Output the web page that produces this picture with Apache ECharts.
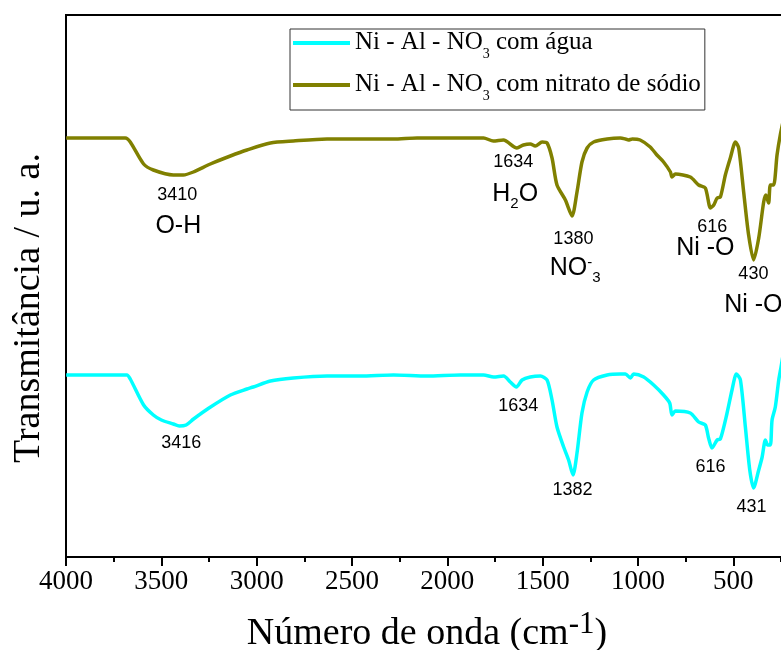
<!DOCTYPE html>
<html>
<head>
<meta charset="utf-8">
<script src="https://cdn.jsdelivr.net/npm/echarts@6/dist/echarts.min.js"></script>
<style>html,body{margin:0;padding:0;background:#fff;overflow:hidden}#c{width:832px;height:650px}</style>
</head>
<body>
<div id="c"></div>
<script>
// ---- data (arbitrary transmittance units) ----
const seriesNames = ['Ni - Al - NO3 com água', 'Ni - Al - NO3 com nitrato de sódio'];
const xTicks = [4000, 3500, 3000, 2500, 2000, 1500, 1000, 500];

const aguaWn = [3999,3850,3681,3663,3593,3542,3500,3437,3406,3370,3331,3250,3138,3051,3018,2928,2808,2631,2457,2282,2107,1932,1810,1757,1705,1670,1638,1608,1565,1512,1477,1451,1425,1390,1364,1341,1320,1294,1267,1233,1162,1093,1066,1040,1023,970,918,866,834,822,804,726,682,647,630,612,585,568,533,507,484,463,437,414,394,367,349,332,320,306,297,280,262,250,235];
const aguaT  = [182,182,182,178,152,142,137,133,131,132,138,149,162,168,170,176,179,181,181,182,181,182,182,180,181,175,170,177,180,181,177,157,130,110,97,82,104,144,165,177,182,183,183,179,183,180,172,162,154,142,146,144,135,132,119,109,117,118,144,167,183,177,130,87,69,87,100,117,112,112,137,150,177,190,207];

const nitratoWn = [3999,3850,3689,3663,3593,3542,3437,3385,3332,3243,3138,3051,2928,2808,2631,2457,2282,2159,1932,1810,1759,1706,1635,1601,1565,1539,1503,1477,1451,1425,1381,1346,1320,1294,1267,1233,1162,1093,1066,1050,1030,989,936,901,866,830,822,804,726,682,647,620,603,585,568,542,516,489,472,446,420,394,367,341,329,315,306,289,271,254,235];
const nitratoT  = [419,419,419,415,393,387,382,382,385,393,401,407,414,416,418,418,418,419,419,419,416,417,409,412,413,411,415,414,399,372,357,341,365,395,409,415,418,419,418,417,418,417,410,402,395,385,380,383,380,372,369,349,352,359,360,382,399,415,409,365,322,297,319,355,362,354,372,372,402,422,439];

// annotations: [wavenumber, value, text]
const aguaNotes = [[3395,114,'3416'],[1628,151,'1634'],[1344,67,'1382'],[620,90,'616'],[405,50,'431']];
const nitratoNotes = [[3416,362,'3410'],[1654,395,'1634'],[1339,318,'1380'],[611,330,'616'],[395,283,'430']];
const groupNotes = [[3411,331,'{b|O-H}'],[1644,363,'{b|H}{sb|2}{b|O}'],[1330,289,'{b|NO}{sp|-}{sb|3}'],[647,309,'{b|Ni -O}'],[395,252,'{b|Ni -O}']];

const pair = (xs, ys) => xs.map((x, i) => [x, ys[i]]);
const richGroup = {
  b:  {fontSize: 25, fontFamily: 'Liberation Sans', color: '#000', lineHeight: 25, verticalAlign: 'top'},
  sb: {fontSize: 15, fontFamily: 'Liberation Sans', color: '#000', lineHeight: 15, padding: [15,0,0,0], verticalAlign: 'top'},
  sp: {fontSize: 15, fontFamily: 'Liberation Sans', color: '#000', lineHeight: 15, padding: [0,0,0,0], verticalAlign: 'top'}
};
const numNote = n => ({coord: [n[0], n[1]], value: n[2], label: {formatter: n[2]}});
const groupNote = n => ({coord: [n[0], n[1]], value: 0, label: {formatter: n[2], rich: richGroup}});
const mpBase = {symbol: 'circle', symbolSize: 0, silent: true, animation: false,
  label: {show: true, position: 'inside', color: '#000', fontSize: 18, fontFamily: 'Liberation Sans'}};

const chart = echarts.init(document.getElementById('c'), null, {renderer: 'canvas'});
chart.setOption({
  animation: false,
  backgroundColor: '#fff',
  grid: {left: 66, top: 15, width: 762.7, height: 542, show: true, borderColor: '#000', borderWidth: 2, backgroundColor: 'transparent'},
  legend: {
    left: 290, top: 29, orient: 'vertical', itemGap: 11,
    padding: [1, 4, 7, 3],
    borderColor: '#333', borderWidth: 1, backgroundColor: '#fff',
    icon: 'rect', itemWidth: 57, itemHeight: 4,
    data: [seriesNames[0], seriesNames[1]],
    formatter: name => name === seriesNames[0]
      ? '{a|Ni - Al - NO}{s|3}{a| com água}'
      : '{a|Ni - Al - NO}{s|3}{a| com nitrato de sódio}',
    textStyle: {
      rich: {
        a: {fontSize: 25, fontFamily: 'Liberation Serif', color: '#000', lineHeight: 26, verticalAlign: 'top'},
        s: {fontSize: 14, fontFamily: 'Liberation Serif', color: '#000', lineHeight: 14, padding: [17,0,0,0], verticalAlign: 'top'}
      }
    }
  },
  xAxis: {
    type: 'value', inverse: true, min: 0, max: 4000, interval: 500,
    axisLine: {show: true, lineStyle: {color: '#000', width: 2}},
    axisTick: {show: true, length: 9, lineStyle: {color: '#000', width: 2}},
    minorTick: {show: true, splitNumber: 2, length: 5, lineStyle: {color: '#000', width: 2}},
    splitLine: {show: false},
    axisLabel: {color: '#000', fontSize: 27, fontFamily: 'Liberation Serif', margin: 11,
      formatter: v => xTicks.includes(v) ? String(v) : ''}
  },
  yAxis: {
    type: 'value', min: 0, max: 542, interval: 27.1,
    axisLine: {show: true, lineStyle: {color: '#000', width: 2}},
    axisTick: {show: true, inside: true, length: 2, lineStyle: {color: '#555', width: 1}},
    axisLabel: {show: false},
    splitLine: {show: false}
  },
  series: [
    {name: seriesNames[0], type: 'line', data: pair(aguaWn, aguaT), showSymbol: false, symbol: 'none', smooth: 0.25,
     lineStyle: {color: '#00FFFF', width: 3.5}, itemStyle: {color: '#00FFFF'},
     markPoint: Object.assign({}, mpBase, {data: aguaNotes.map(numNote)})},
    {name: seriesNames[1], type: 'line', data: pair(nitratoWn, nitratoT), showSymbol: false, symbol: 'none', smooth: 0.25,
     lineStyle: {color: '#808000', width: 3.5}, itemStyle: {color: '#808000'},
     markPoint: Object.assign({}, mpBase, {data: nitratoNotes.map(numNote).concat(groupNotes.map(groupNote))})}
  ],
  graphic: [
    {type: 'text', x: 29, y: 308, rotation: Math.PI / 2,
     style: {text: 'Transmitância / u. a.', font: '38px "Liberation Serif"', fill: '#000', textAlign: 'center', textVerticalAlign: 'middle'}},
    {type: 'text', x: 427, y: 631,
     style: {text: '{m|Número de onda (cm}{p|-1}{m|)}', textAlign: 'center', textVerticalAlign: 'middle', fill: '#000',
       rich: {
         m: {fontSize: 38, fontFamily: 'Liberation Serif', lineHeight: 44, verticalAlign: 'bottom', padding: [0,0,0,0]},
         p: {fontSize: 31, fontFamily: 'Liberation Serif', lineHeight: 31, verticalAlign: 'top', padding: [0,0,0,0]}
       }}}
  ]
});
</script>
</body>
</html>
